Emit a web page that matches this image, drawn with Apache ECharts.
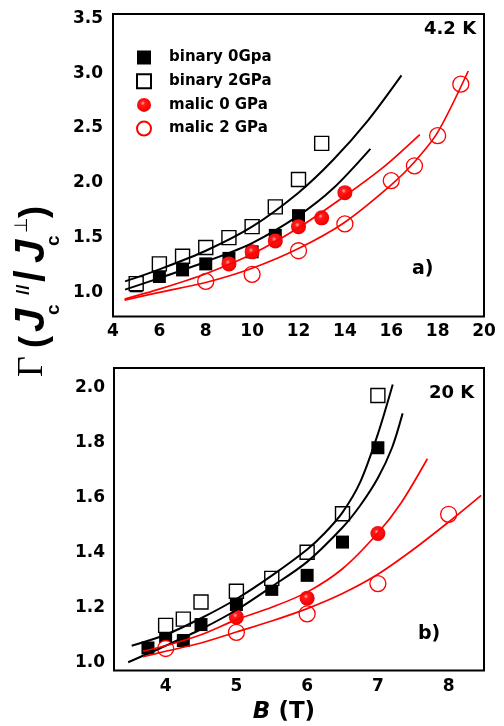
<!DOCTYPE html>
<html><head><meta charset="utf-8">
<script src="https://cdn.jsdelivr.net/npm/echarts@6/dist/echarts.min.js"></script>
<style>html,body{margin:0;padding:0;background:#fff}#c{width:504px;height:726px}</style>
</head><body><div id="c"></div>
<script>
// ---------- names ----------
const seriesNames = ['binary 0Gpa', 'binary 2GPa', 'malic 0 GPa', 'malic 2 GPa'];

// ---------- panel a) 4.2 K : measured points ----------
const aBinary0X = [5, 6, 7, 8, 9, 10, 11, 12];
const aBinary0Y = [1.06, 1.145, 1.205, 1.26, 1.31, 1.37, 1.52, 1.70];
const aBinary2X = [5, 6, 7, 8, 9, 10, 11, 12, 13];
const aBinary2Y = [1.08, 1.26, 1.33, 1.41, 1.50, 1.60, 1.78, 2.03, 2.36];
const aMalic0X = [9, 10, 11, 12, 13, 14];
const aMalic0Y = [1.26, 1.37, 1.47, 1.60, 1.68, 1.91];
const aMalic2X = [8, 10, 12, 14, 16, 17, 18, 19];
const aMalic2Y = [1.10, 1.165, 1.38, 1.625, 2.02, 2.155, 2.43, 2.90];

// ---------- panel a) fitted curves (read from picture) ----------
const aFitBinary2X = [4.52, 6, 8, 10, 12, 13.5, 15, 16.44];
const aFitBinary2Y = [1.10, 1.21, 1.38, 1.60, 1.91, 2.21, 2.57, 2.98];
const aFitBinary0X = [4.52, 6, 8, 10, 12, 13.5, 15.1];
const aFitBinary0Y = [1.025, 1.13, 1.28, 1.45, 1.70, 1.95, 2.31];
const aFitMalic0X = [4.5, 6, 8, 10, 12, 14, 15.65, 17.23];
const aFitMalic0Y = [0.94, 1.03, 1.17, 1.35, 1.59, 1.88, 2.14, 2.44];
const aFitMalic2X = [4.5, 6, 8, 10, 12, 14, 16, 17, 18, 19.32];
const aFitMalic2Y = [0.93, 1.0, 1.09, 1.22, 1.40, 1.64, 1.98, 2.19, 2.46, 3.02];

// ---------- panel b) 20 K : measured points ----------
const bBinary0X = [3.75, 4.0, 4.25, 4.5, 5.0, 5.5, 6.0, 6.5, 7.0];
const bBinary0Y = [1.052, 1.09, 1.079, 1.137, 1.21, 1.265, 1.316, 1.437, 1.78];
const bBinary2X = [4.0, 4.25, 4.5, 5.0, 5.5, 6.0, 6.5, 7.0];
const bBinary2Y = [1.134, 1.157, 1.219, 1.258, 1.305, 1.40, 1.54, 1.97];
const bMalic0X = [5, 6, 7];
const bMalic0Y = [1.164, 1.233, 1.468];
const bMalic2X = [4, 5, 6, 7, 8];
const bMalic2Y = [1.05, 1.109, 1.176, 1.286, 1.538];

// ---------- panel b) fitted curves ----------
const bFitBinary2X = [3.52, 4.0, 4.5, 5.0, 5.5, 6.0, 6.25, 6.5, 6.75, 7.0, 7.21];
const bFitBinary2Y = [1.06, 1.10, 1.16, 1.23, 1.315, 1.41, 1.47, 1.545, 1.655, 1.83, 2.01];
const bFitBinary0X = [3.47, 4.0, 4.5, 5.0, 5.5, 6.0, 6.5, 6.75, 7.0, 7.2, 7.35];
const bFitBinary0Y = [1.0, 1.06, 1.12, 1.19, 1.275, 1.365, 1.49, 1.57, 1.67, 1.78, 1.905];
const bFitMalic0X = [3.68, 4.0, 4.5, 5.0, 5.5, 6.0, 6.5, 7.0, 7.33, 7.7];
const bFitMalic0Y = [1.04, 1.06, 1.10, 1.155, 1.20, 1.255, 1.34, 1.47, 1.58, 1.74];
const bFitMalic2X = [3.68, 4.0, 4.5, 5.0, 5.5, 6.0, 6.5, 7.0, 7.5, 8.0, 8.46];
const bFitMalic2Y = [1.02, 1.04, 1.07, 1.11, 1.15, 1.195, 1.25, 1.32, 1.41, 1.51, 1.607];

// ---------- tick labels ----------
const aXTicks = [4, 6, 8, 10, 12, 14, 16, 18, 20];
const aYTicks = [1.0, 1.5, 2.0, 2.5, 3.0, 3.5];
const bXTicks = [4, 5, 6, 7, 8];
const bYTicks = [1.0, 1.2, 1.4, 1.6, 1.8, 2.0];

// ---------- helpers ----------
const zip = (xs, ys) => xs.map((x, i) => [x, ys[i]]);
const inList = (v, list) => list.some(t => Math.abs(t - v) < 1e-6);
const FONT = 'DejaVu Sans';
const RED = '#ff0000';

const styles = [
  { symbol: 'rect', symbolSize: 13, itemStyle: { color: '#000', opacity: 1 } },
  { symbol: 'rect', symbolSize: 14, itemStyle: { color: '#fff', borderColor: '#000', borderWidth: 1.4, opacity: 1 } },
  { symbol: 'circle', symbolSize: 15, itemStyle: { opacity: 1, color: { type: 'radial', x: 0.42, y: 0.38, r: 0.62,
      colorStops: [{ offset: 0, color: '#ffb0b0' }, { offset: 0.25, color: '#ff1a1a' }, { offset: 1, color: '#f00000' }] } } },
  { symbol: 'circle', symbolSize: 16, itemStyle: { color: '#fff', borderColor: RED, borderWidth: 1.3, opacity: 1 } }
];

function scatter(idx, name, data, s) {
  return Object.assign({ type: 'scatter', name, xAxisIndex: idx, yAxisIndex: idx, data, z: 2, silent: true }, s);
}
function fit(idx, name, data, color, w) {
  return { type: 'line', name, xAxisIndex: idx, yAxisIndex: idx, data, smooth: 0.3,
    symbol: 'none', showSymbol: false, silent: true, z: 3, lineStyle: { color, width: w } };
}

const axisLabelBase = { fontFamily: FONT, fontWeight: 'bold', fontSize: 17, color: '#000' };

const option = {
  backgroundColor: '#fff',
  animation: false,
  grid: [
    { left: 113, top: 14, width: 371, height: 302.5, outerBoundsMode: 'none', containLabel: false,
      show: true, borderColor: '#000', borderWidth: 2, backgroundColor: 'transparent' },
    { left: 114, top: 368, width: 370, height: 302.5, outerBoundsMode: 'none', containLabel: false,
      show: true, borderColor: '#000', borderWidth: 2, backgroundColor: 'transparent' }
  ],
  xAxis: [
    { gridIndex: 0, type: 'value', min: 4, max: 20, interval: 2,
      axisLine: { show: false }, axisTick: { show: false }, splitLine: { show: false },
      axisLabel: Object.assign({ margin: 7, formatter: v => inList(v, aXTicks) ? String(v) : '' }, axisLabelBase) },
    { gridIndex: 1, type: 'value', min: 3.27, max: 8.5, interval: 0.01,
      axisLine: { show: false }, axisTick: { show: false }, splitLine: { show: false },
      axisLabel: Object.assign({ margin: 8, showMaxLabel: false, formatter: v => inList(v, bXTicks) ? String(Math.round(v)) : '' }, axisLabelBase),
      name: '{i|B} (T)', nameLocation: 'middle', nameGap: 30,
      nameTextStyle: { fontFamily: FONT, fontWeight: 'bold', fontSize: 23, color: '#000', padding: [0, 30, 0, 0],
        rich: { i: { fontFamily: FONT, fontWeight: 'bold', fontStyle: 'italic', fontSize: 23, color: '#000' } } } }
  ],
  yAxis: [
    { gridIndex: 0, type: 'value', min: 0.78, max: 3.54, interval: 0.02,
      axisLine: { show: false }, axisTick: { show: false }, splitLine: { show: false },
      axisLabel: Object.assign({ margin: 10, formatter: v => inList(v, aYTicks) ? v.toFixed(1) : '' }, axisLabelBase) },
    { gridIndex: 1, type: 'value', min: 0.97, max: 2.07, interval: 0.01,
      axisLine: { show: false }, axisTick: { show: false }, splitLine: { show: false },
      axisLabel: Object.assign({ margin: 9, formatter: v => inList(v, bYTicks) ? v.toFixed(1) : '' }, axisLabelBase) }
  ],
  legend: {
    orient: 'vertical', left: 136, top: 50, padding: 0, itemWidth: 14, itemHeight: 14, itemGap: 8.2,
    selectedMode: false, data: seriesNames,
    textStyle: { fontFamily: FONT, fontWeight: 'bold', fontSize: 15, color: '#000', padding: [0, 0, 0, 13] }
  },
  series: [
    scatter(0, seriesNames[0], zip(aBinary0X, aBinary0Y), styles[0]),
    scatter(0, seriesNames[1], zip(aBinary2X, aBinary2Y), styles[1]),
    scatter(0, seriesNames[2], zip(aMalic0X, aMalic0Y), styles[2]),
    scatter(0, seriesNames[3], zip(aMalic2X, aMalic2Y), styles[3]),
    fit(0, 'fit a b2', zip(aFitBinary2X, aFitBinary2Y), '#000', 2),
    fit(0, 'fit a b0', zip(aFitBinary0X, aFitBinary0Y), '#000', 2),
    fit(0, 'fit a m0', zip(aFitMalic0X, aFitMalic0Y), RED, 1.7),
    fit(0, 'fit a m2', zip(aFitMalic2X, aFitMalic2Y), RED, 1.7),
    scatter(1, seriesNames[0], zip(bBinary0X, bBinary0Y), styles[0]),
    scatter(1, seriesNames[1], zip(bBinary2X, bBinary2Y), styles[1]),
    scatter(1, seriesNames[2], zip(bMalic0X, bMalic0Y), styles[2]),
    scatter(1, seriesNames[3], zip(bMalic2X, bMalic2Y), styles[3]),
    fit(1, 'fit b b2', zip(bFitBinary2X, bFitBinary2Y), '#000', 2),
    fit(1, 'fit b b0', zip(bFitBinary0X, bFitBinary0Y), '#000', 2),
    fit(1, 'fit b m0', zip(bFitMalic0X, bFitMalic0Y), RED, 1.7),
    fit(1, 'fit b m2', zip(bFitMalic2X, bFitMalic2Y), RED, 1.7)
  ],
  graphic: [
    { type: 'text', left: 424, top: 20, style: { text: '4.2 K', fontFamily: FONT, fontWeight: 'bold', fontSize: 18, fill: '#000' } },
    { type: 'text', left: 412, top: 260, style: { text: 'a)', fontFamily: FONT, fontWeight: 'bold', fontSize: 19, fill: '#000' } },
    { type: 'text', left: 429, top: 384, style: { text: '20 K', fontFamily: FONT, fontWeight: 'bold', fontSize: 18, fill: '#000' } },
    { type: 'text', left: 418, top: 625, style: { text: 'b)', fontFamily: FONT, fontWeight: 'bold', fontSize: 19, fill: '#000' } },
    { type: 'group', x: 46, y: 377, rotation: Math.PI / 2, children: [
      { type: 'text', x: 0, y: -13.5, style: { text: 'Γ', font: 'normal 36px "Liberation Serif"', fill: '#000', verticalAlign: 'middle', align: 'left' } },
      { type: 'text', x: 29, y: -11, style: { text: '(', font: 'bold 36px "Liberation Sans"', fill: '#000', verticalAlign: 'middle', align: 'left' } },
      { type: 'text', x: 45, y: -13.5, style: { text: 'J', font: 'italic bold 42px "Liberation Sans"', fill: '#000', verticalAlign: 'middle', align: 'left' } },
      { type: 'text', x: 62, y: 8, style: { text: 'c', font: 'bold 19px "Liberation Sans"', fill: '#000', verticalAlign: 'middle', align: 'left' } },
      { type: 'text', x: 82, y: -22.5, style: { text: '//', font: 'bold 19px "Liberation Sans"', fill: '#000', verticalAlign: 'middle', align: 'left' } },
      { type: 'text', x: 95, y: -13.5, style: { text: '/', font: 'bold 42px "Liberation Sans"', fill: '#000', verticalAlign: 'middle', align: 'left' } },
      { type: 'text', x: 114, y: -13.5, style: { text: 'J', font: 'italic bold 42px "Liberation Sans"', fill: '#000', verticalAlign: 'middle', align: 'left' } },
      { type: 'text', x: 131, y: 8, style: { text: 'c', font: 'bold 19px "Liberation Sans"', fill: '#000', verticalAlign: 'middle', align: 'left' } },
      { type: 'text', x: 144, y: -23.5, style: { text: '⊥', font: 'normal 18px "DejaVu Sans"', fill: '#000', verticalAlign: 'middle', align: 'left' } },
      { type: 'text', x: 159, y: -11, style: { text: ')', font: 'bold 36px "Liberation Sans"', fill: '#000', verticalAlign: 'middle', align: 'left' } }
    ] }
  ]
};

const chart = echarts.init(document.getElementById('c'), null, { renderer: 'canvas' });
chart.setOption(option);
</script>
</body></html>
